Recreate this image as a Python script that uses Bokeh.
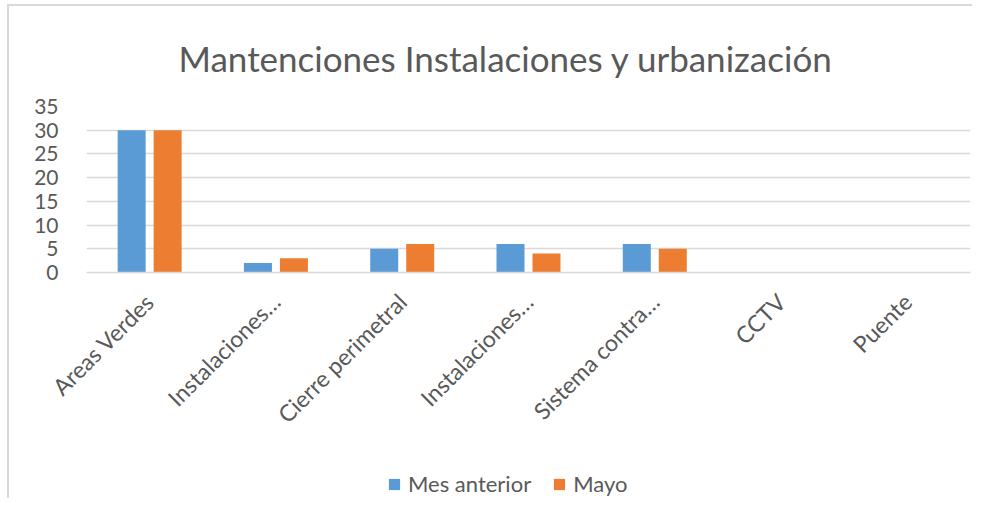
import numpy as np
from math import pi
from bokeh.plotting import figure
from bokeh.layouts import column
from bokeh.models import (Range1d, FixedTicker, CustomJSTickFormatter, Legend,
                          LegendItem, ColumnDataSource)
from bokeh.embed import file_html
from bokeh.resources import INLINE

categories = ["Areas Verdes", "Instalaciones…", "Cierre perimetral", "Instalaciones…",
              "Sistema contra…", "CCTV", "Puente"]
mes_anterior = [30, 2, 5, 6, 6, 0, 0]
mayo = [30, 3, 6, 4, 5, 0, 0]
series_names = ["Mes anterior", "Mayo"]
y_ticks = [0, 5, 10, 15, 20, 25, 30, 35]

BLUE = "#5B9BD5"
ORANGE = "#ED7D31"
TEXT = "#595959"
GRID = "#d9d9d9"
FONT = "Lato"

n = len(categories)
idx = np.arange(n)
src = ColumnDataSource(dict(
    x1=idx + 0.5 - 0.1425, x2=idx + 0.5 + 0.1425,
    a=mes_anterior, b=mayo))

p = figure(width=965, height=464, output_backend="svg", toolbar_location=None,
           x_range=Range1d(0, n), y_range=Range1d(0, 35),
           min_border_left=77, min_border_right=4, min_border_top=99,
           min_border_bottom=198)
p.outline_line_color = None
p.background_fill_color = "white"
p.border_fill_color = "white"

r1 = p.vbar(x="x1", top="a", width=0.2217, source=src, fill_color=BLUE, line_color=None)
r2 = p.vbar(x="x2", top="b", width=0.2217, source=src, fill_color=ORANGE, line_color=None)

# title
p.title.text = "Mantenciones Instalaciones y urbanización"
p.title.align = "left"
p.title.offset = 92
p.title.text_font = FONT
p.title.text_font_size = "35px"
p.title.text_font_style = "normal"
p.title.text_color = TEXT
p.title.standoff = 56

# y axis
p.yaxis.ticker = FixedTicker(ticks=y_ticks)
p.yaxis.axis_line_color = None
p.yaxis.major_tick_line_color = None
p.yaxis.minor_tick_line_color = None
p.yaxis.major_label_text_font = FONT
p.yaxis.major_label_text_font_size = "21px"
p.yaxis.major_label_text_color = TEXT
p.yaxis.major_label_standoff = 22

# x axis
p.xaxis.ticker = FixedTicker(ticks=list(idx + 0.5))
p.xaxis.formatter = CustomJSTickFormatter(args=dict(labels=categories),
                                          code="return labels[Math.floor(tick)];")
p.xaxis.axis_line_color = GRID
p.xaxis.axis_line_width = 1.5
p.xaxis.major_tick_line_color = None
p.xaxis.minor_tick_line_color = None
p.xaxis.major_label_orientation = pi / 4
p.xaxis.major_label_text_font = FONT
p.xaxis.major_label_text_font_size = "23px"
p.xaxis.major_label_text_color = TEXT
p.xaxis.major_label_standoff = 19

p.xgrid.grid_line_color = None
p.ygrid.grid_line_color = GRID
p.ygrid.grid_line_width = 1.5

# legend in its own strip below the chart (frame aligned with the chart's frame)
pl = figure(width=965, height=30, output_backend="svg", toolbar_location=None,
            min_border=0, x_range=Range1d(0, 1), y_range=Range1d(0, 1))
pl.axis.visible = False
pl.grid.visible = False
pl.outline_line_color = None
pl.border_fill_color = "white"
dummy = ColumnDataSource(dict(x=[0.5], top=[0], bottom=[0]))
l1 = pl.vbar(x="x", top="top", bottom="bottom", width=0.1, source=dummy,
             fill_color=BLUE, line_color=None)
l2 = pl.vbar(x="x", top="top", bottom="bottom", width=0.1, source=dummy,
             fill_color=ORANGE, line_color=None)

legend = Legend(items=[LegendItem(label=series_names[0], renderers=[l1]),
                       LegendItem(label=series_names[1], renderers=[l2])],
                orientation="horizontal", location=(301, 3))
legend.padding = 0
legend.margin = 0
legend.spacing = 21
legend.glyph_width = 14
legend.glyph_height = 14
legend.label_standoff = 7
legend.label_height = 20
legend.label_text_font = FONT
legend.label_text_font_size = "22px"
legend.label_text_color = TEXT
legend.border_line_color = None
legend.background_fill_alpha = 0
pl.add_layout(legend, "center")

layout = column(p, pl, spacing=0)
layout.styles = {"transform": "translate(9px, 6px)",
                 "box-shadow": "-2px -2px 0 0 #d9d9d9"}
open("out.html", "w").write(file_html(layout, INLINE))
